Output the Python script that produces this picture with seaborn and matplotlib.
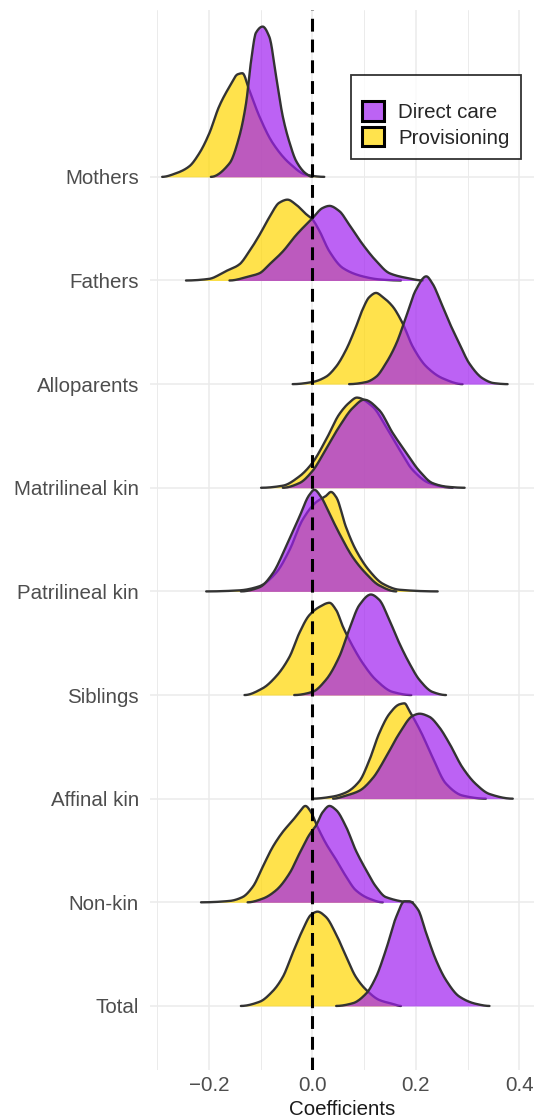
import numpy as np
import matplotlib
matplotlib.use("Agg")
import matplotlib.pyplot as plt
from matplotlib.patches import Patch
import seaborn as sns

# ---------------- data ----------------
categories = ["Mothers", "Fathers", "Alloparents", "Matrilineal kin",
              "Patrilineal kin", "Siblings", "Affinal kin", "Non-kin", "Total"]
series_names = ["Direct care", "Provisioning"]
x_ticks = [-0.2, 0.0, 0.2, 0.4]
x_tick_labels = ["\u22120.2", "0.0", "0.2", "0.4"]

# density outlines: x = coefficient, h = ridge height (in row units)
mothers_direct_x = [-0.196, -0.160, -0.141, -0.128, -0.118, -0.109, -0.096, -0.083, -0.070, -0.057, -0.044, -0.031, -0.012, 0.0]
mothers_direct_h = [0.0, 0.13, 0.39, 0.71, 1.13, 1.39, 1.45, 1.35, 0.97, 0.58, 0.33, 0.15, 0.03, 0.0]
mothers_prov_x = [-0.290, -0.263, -0.238, -0.218, -0.199, -0.180, -0.160, -0.144, -0.135, -0.122, -0.102, -0.077, -0.044, -0.012, 0.023]
mothers_prov_h = [0.0, 0.035, 0.10, 0.23, 0.42, 0.68, 0.87, 0.99, 1.00, 0.84, 0.58, 0.33, 0.13, 0.02, 0.0]

fathers_direct_x = [-0.160, -0.122, -0.102, -0.083, -0.057, -0.031, 0.0, 0.020, 0.033, 0.052, 0.071, 0.097, 0.123, 0.149, 0.187, 0.213]
fathers_direct_h = [0.0, 0.04, 0.07, 0.155, 0.28, 0.44, 0.60, 0.70, 0.72, 0.67, 0.54, 0.35, 0.19, 0.07, 0.02, 0.0]
fathers_prov_x = [-0.244, -0.200, -0.167, -0.141, -0.122, -0.102, -0.083, -0.064, -0.048, -0.031, -0.012, 0.0, 0.0135, 0.033, 0.059, 0.097, 0.130, 0.171]
fathers_prov_h = [0.0, 0.015, 0.09, 0.155, 0.28, 0.44, 0.61, 0.75, 0.78, 0.73, 0.64, 0.59, 0.48, 0.28, 0.12, 0.04, 0.01, 0.0]

allo_direct_x = [0.071, 0.104, 0.123, 0.142, 0.162, 0.181, 0.200, 0.220, 0.232, 0.249, 0.265, 0.284, 0.303, 0.329, 0.350, 0.377]
allo_direct_h = [0.0, 0.02, 0.07, 0.20, 0.39, 0.65, 0.91, 1.04, 0.97, 0.78, 0.59, 0.39, 0.20, 0.055, 0.01, 0.0]
allo_prov_x = [-0.038, 0.0, 0.026, 0.046, 0.065, 0.084, 0.097, 0.110, 0.123, 0.136, 0.155, 0.174, 0.194, 0.220, 0.252, 0.290]
allo_prov_h = [0.0, 0.02, 0.07, 0.17, 0.33, 0.55, 0.72, 0.84, 0.88, 0.84, 0.75, 0.59, 0.36, 0.17, 0.055, 0.0]

matri_direct_x = [-0.057, -0.025, 0.0, 0.026, 0.052, 0.078, 0.100, 0.129, 0.155, 0.181, 0.207, 0.232, 0.260, 0.294]
matri_direct_h = [0.0, 0.045, 0.16, 0.37, 0.59, 0.77, 0.85, 0.75, 0.53, 0.34, 0.16, 0.045, 0.01, 0.0]
matri_prov_x = [-0.099, -0.057, -0.025, 0.0, 0.026, 0.052, 0.071, 0.086, 0.117, 0.142, 0.168, 0.194, 0.226, 0.271]
matri_prov_h = [0.0, 0.02, 0.11, 0.24, 0.46, 0.71, 0.82, 0.87, 0.78, 0.59, 0.37, 0.17, 0.045, 0.0]

patri_direct_x = [-0.138, -0.102, -0.077, -0.051, -0.025, -0.006, 0.004, 0.017, 0.033, 0.052, 0.078, 0.104, 0.129, 0.162]
patri_direct_h = [0.0, 0.04, 0.17, 0.43, 0.72, 0.93, 0.98, 0.91, 0.75, 0.56, 0.33, 0.17, 0.058, 0.0]
patri_prov_x = [-0.205, -0.141, -0.102, -0.070, -0.044, -0.019, 0.007, 0.026, 0.036, 0.046, 0.065, 0.084, 0.110, 0.136, 0.168, 0.242]
patri_prov_h = [0.0, 0.01, 0.05, 0.18, 0.40, 0.69, 0.86, 0.92, 0.96, 0.91, 0.62, 0.40, 0.20, 0.074, 0.016, 0.0]

sib_direct_x = [-0.035, 0.0, 0.026, 0.052, 0.071, 0.091, 0.113, 0.129, 0.149, 0.168, 0.187, 0.207, 0.232, 0.258]
sib_direct_h = [0.0, 0.03, 0.145, 0.37, 0.63, 0.87, 0.97, 0.92, 0.72, 0.50, 0.31, 0.145, 0.03, 0.0]
sib_prov_x = [-0.131, -0.096, -0.070, -0.044, -0.025, -0.006, 0.0135, 0.033, 0.046, 0.059, 0.078, 0.097, 0.123, 0.155, 0.191]
sib_prov_h = [0.0, 0.065, 0.18, 0.37, 0.60, 0.77, 0.85, 0.89, 0.82, 0.66, 0.47, 0.31, 0.145, 0.03, 0.0]

affinal_direct_x = [0.040, 0.065, 0.091, 0.117, 0.142, 0.168, 0.194, 0.207, 0.226, 0.245, 0.265, 0.290, 0.316, 0.342, 0.387]
affinal_direct_h = [0.0, 0.03, 0.077, 0.20, 0.40, 0.63, 0.80, 0.82, 0.79, 0.69, 0.53, 0.30, 0.14, 0.045, 0.0]
affinal_prov_x = [0.0, 0.039, 0.065, 0.091, 0.110, 0.129, 0.149, 0.168, 0.178, 0.187, 0.210, 0.232, 0.258, 0.290, 0.335]
affinal_prov_h = [0.0, 0.02, 0.06, 0.17, 0.37, 0.63, 0.82, 0.91, 0.92, 0.85, 0.64, 0.40, 0.145, 0.03, 0.0]

nonkin_direct_x = [-0.125, -0.096, -0.070, -0.044, -0.025, -0.006, 0.007, 0.020, 0.033, 0.046, 0.065, 0.084, 0.104, 0.123, 0.142, 0.194]
nonkin_direct_h = [0.0, 0.035, 0.116, 0.28, 0.47, 0.65, 0.74, 0.87, 0.93, 0.89, 0.73, 0.50, 0.31, 0.15, 0.05, 0.0]
nonkin_prov_x = [-0.215, -0.160, -0.135, -0.115, -0.096, -0.077, -0.057, -0.038, -0.025, -0.0135, -0.0025, 0.007, 0.026, 0.046, 0.065, 0.084, 0.110, 0.136]
nonkin_prov_h = [0.0, 0.013, 0.05, 0.15, 0.34, 0.53, 0.68, 0.79, 0.87, 0.93, 0.87, 0.76, 0.57, 0.41, 0.25, 0.116, 0.035, 0.0]

total_direct_x = [0.046, 0.078, 0.104, 0.123, 0.142, 0.162, 0.178, 0.187, 0.204, 0.220, 0.239, 0.258, 0.284, 0.316, 0.342]
total_direct_h = [0.0, 0.026, 0.12, 0.28, 0.54, 0.86, 1.01, 1.01, 0.93, 0.70, 0.44, 0.25, 0.09, 0.02, 0.0]
total_prov_x = [-0.138, -0.102, -0.077, -0.057, -0.038, -0.019, -0.0025, 0.010, 0.026, 0.046, 0.065, 0.084, 0.104, 0.129, 0.155, 0.171]
total_prov_h = [0.0, 0.04, 0.14, 0.28, 0.51, 0.73, 0.88, 0.91, 0.86, 0.69, 0.48, 0.28, 0.155, 0.058, 0.02, 0.0]

direct_curves = [
    (mothers_direct_x, mothers_direct_h), (fathers_direct_x, fathers_direct_h),
    (allo_direct_x, allo_direct_h), (matri_direct_x, matri_direct_h),
    (patri_direct_x, patri_direct_h), (sib_direct_x, sib_direct_h),
    (affinal_direct_x, affinal_direct_h), (nonkin_direct_x, nonkin_direct_h),
    (total_direct_x, total_direct_h)]
prov_curves = [
    (mothers_prov_x, mothers_prov_h), (fathers_prov_x, fathers_prov_h),
    (allo_prov_x, allo_prov_h), (matri_prov_x, matri_prov_h),
    (patri_prov_x, patri_prov_h), (sib_prov_x, sib_prov_h),
    (affinal_prov_x, affinal_prov_h), (nonkin_prov_x, nonkin_prov_h),
    (total_prov_x, total_prov_h)]

# ---------------- style ----------------
sns.set_style("white")
plt.rcParams["font.family"] = ["Liberation Sans", "DejaVu Sans"]

purple = "#A020F0"
gold = "#FFD700"
fill_alpha = 0.7
edge = "#333333"


def smooth(x, y, n=200):
    """Shape-preserving cubic (PCHIP) curve through the read points, for drawing."""
    x = np.asarray(x, float)
    y = np.asarray(y, float)
    h = np.diff(x)
    d = np.diff(y) / h
    m = np.zeros_like(y)
    for k in range(1, len(x) - 1):
        if d[k - 1] * d[k] > 0:
            w1 = 2 * h[k] + h[k - 1]
            w2 = h[k] + 2 * h[k - 1]
            m[k] = (w1 + w2) / (w1 / d[k - 1] + w2 / d[k])
    xs = np.linspace(x[0], x[-1], n)
    idx = np.clip(np.searchsorted(x, xs) - 1, 0, len(x) - 2)
    t = (xs - x[idx]) / h[idx]
    h00 = 2 * t**3 - 3 * t**2 + 1
    h10 = t**3 - 2 * t**2 + t
    h01 = -2 * t**3 + 3 * t**2
    h11 = t**3 - t**2
    ys = h00 * y[idx] + h10 * h[idx] * m[idx] + h01 * y[idx + 1] + h11 * h[idx] * m[idx + 1]
    return xs, np.maximum(ys, 0)


W, H = 534, 1117
fig = plt.figure(figsize=(W / 100, H / 100), dpi=100)
ax = fig.add_axes([150 / W, 47 / H, (W - 150) / W, (1070 - 10) / H])

n = len(categories)
ax.set_xlim(-0.3135, 0.428)
ax.set_ylim(-0.618, (n - 1) + 1.61)

# grid
for v in [-0.3, -0.1, 0.1, 0.3]:
    ax.axvline(v, color="#EBEBEB", lw=0.7, zorder=0)
for v in x_ticks:
    ax.axvline(v, color="#EBEBEB", lw=1.1, zorder=0)
for i in range(n):
    ax.axhline(n - 1 - i, color="#EBEBEB", lw=1.1, zorder=0)

# ridges: top rows drawn first, lower rows in front
for i, cat in enumerate(categories):
    base = n - 1 - i
    z = 2 + i * 3
    for (cx, ch), col, dz in [(prov_curves[i], gold, 0), (direct_curves[i], purple, 1)]:
        xs, ys = smooth(cx, ch)
        ax.fill_between(xs, base, base + ys, color=col, alpha=fill_alpha, lw=0, zorder=z + dz)
        sns.lineplot(x=xs, y=base + ys, ax=ax, color=edge, lw=1.7, sort=False,
                     estimator=None, zorder=z + dz + 0.5)

ax.axvline(0, color="black", lw=2.2, dashes=(4.2, 2.6), zorder=100)

ax.set_yticks([n - 1 - i for i in range(n)])
ax.set_yticklabels(categories)
ax.set_xticks(x_ticks)
ax.set_xticklabels(x_tick_labels)
ax.tick_params(axis="both", length=0, labelsize=14.8, labelcolor="#4D4D4D")
ax.tick_params(axis="y", pad=8)
ax.tick_params(axis="x", pad=4)
ax.set_xlabel("Coefficients", fontsize=14.8, color="#1A1A1A", labelpad=4)
ax.set_ylabel("")
for s in ax.spines.values():
    s.set_visible(False)
ax.grid(False)

handles = [Patch(facecolor=(160/255*0.7+0.3, 32/255*0.7+0.3, 240/255*0.7+0.3),
                 edgecolor="black", lw=2.2),
           Patch(facecolor=(1.0, 215/255*0.7+0.3, 0.3), edgecolor="black", lw=2.2)]
leg = fig.legend(handles, series_names, loc="upper right",
                 bbox_to_anchor=(521 / W, 1 - 75 / H), frameon=True, fancybox=False,
                 fontsize=14.8, handlelength=1.05, handleheight=1.05,
                 labelspacing=0.25, handletextpad=0.7, borderpad=0.55, borderaxespad=0,
                 title=" ", title_fontsize=8)
leg.get_frame().set_edgecolor("black")
leg.get_frame().set_linewidth(1.3)
leg.set_zorder(200)

fig.savefig("out.png", dpi=100)
